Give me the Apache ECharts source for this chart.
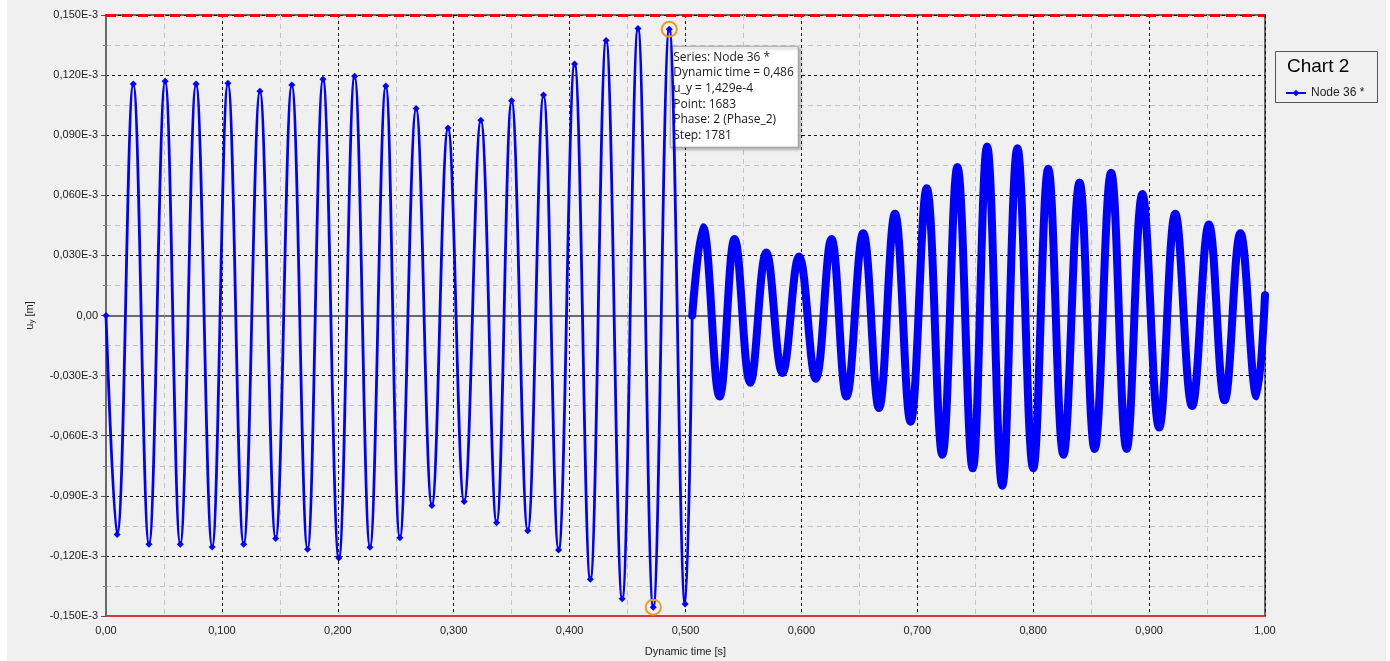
<!DOCTYPE html>
<html><head><meta charset="utf-8">
<script src="https://cdn.jsdelivr.net/npm/echarts@6/dist/echarts.min.js"></script>
<style>
html,body{margin:0;padding:0;background:#ffffff;width:1390px;height:661px;overflow:hidden}
#chart{position:absolute;left:7px;top:0;width:1379px;height:661px;background:#f0f0f0}
</style></head><body><div id="chart"></div>
<script>
// Dynamic time [s] and u_y in micrometres (1 µm = 0.001E-3 m), read at each turning point
const phase1Time = [0.0000, 0.0096, 0.0235, 0.0371, 0.0510, 0.0641, 0.0777, 0.0916, 0.1052, 0.1188,
  0.1328, 0.1464, 0.1603, 0.1739, 0.1872, 0.2009, 0.2145, 0.2278, 0.2414, 0.2536,
  0.2676, 0.2812, 0.2951, 0.3090, 0.3234, 0.3370, 0.3500, 0.3639, 0.3775, 0.3905,
  0.4043, 0.4179, 0.4315, 0.4454, 0.4590, 0.4722, 0.4860, 0.4997, 0.5058];
const phase1Value = [0.0, -109.3, 115.5, -114.2, 116.9, -114.2, 115.5, -115.5, 115.9, -114.2,
  112.0, -111.3, 115.0, -116.7, 117.9, -121.0, 119.4, -115.7, 114.6, -111.0,
  103.3, -94.8, 93.6, -92.8, 97.5, -103.5, 107.2, -107.4, 110.1, -117.1,
  125.6, -131.7, 137.3, -141.4, 143.3, -145.6, 142.9, -144.0, 0.0];
const phase2Time = [0.5058, 0.5150, 0.5294, 0.5424, 0.5559, 0.5697, 0.5836, 0.5980, 0.6124, 0.6259,
  0.6389, 0.6533, 0.6669, 0.6807, 0.6942, 0.7081, 0.7216, 0.7346, 0.7478, 0.7602,
  0.7733, 0.7864, 0.8000, 0.8130, 0.8261, 0.8400, 0.8530, 0.8672, 0.8806, 0.8942,
  0.9087, 0.9226, 0.9371, 0.9516, 0.9652, 0.9788, 0.9928, 1.0000];
const phase2Value = [0.0, 44.0, -40.4, 38.2, -33.6, 31.4, -28.7, 29.5, -31.6, 38.2,
  -40.4, 41.1, -46.2, 50.8, -53.0, 63.5, -69.5, 74.1, -76.3, 84.3,
  -85.0, 83.5, -76.3, 73.2, -69.5, 66.4, -66.6, 71.2, -66.6, 60.6,
  -55.9, 50.8, -45.2, 45.4, -42.3, 41.1, -40.4, 10.1];

const yTickLabels = ['-0,150E-3', '-0,120E-3', '-0,090E-3', '-0,060E-3', '-0,030E-3', '0,00',
  '0,030E-3', '0,060E-3', '0,090E-3', '0,120E-3', '0,150E-3'];
const xTickLabels = ['0,00', '0,100', '0,200', '0,300', '0,400', '0,500', '0,600', '0,700', '0,800', '0,900', '1,00'];

const seriesName = 'Node 36 *';
const chartTitle = 'Chart 2';
const limitUpper = 150;
const limitLower = -150;
const tipIndex = 36;   // point shown in the tooltip
const lowIndex = 35;   // second highlighted point
const tooltipLines = ['Series: Node 36 *', 'Dynamic time = 0,486', 'u_y = 1,429e-4',
  'Point: 1683', 'Phase: 2 (Phase_2)', 'Step: 1781'];

const FONT = 'Liberation Sans, Arial, sans-serif';
const pts1 = phase1Time.map((t, i) => [t, phase1Value[i]]);
const pts2 = phase2Time.map((t, i) => [t, phase2Value[i]]);

const chart = echarts.init(document.getElementById('chart'), null, {renderer: 'canvas'});
const option = {
  animation: false,
  backgroundColor: '#f0f0f0',
  grid: {left: 99, top: 15, width: 1159, height: 601, outerBoundsMode: 'none', containLabel: false,
    show: true, borderColor: '#6a6a6a', borderWidth: 2, backgroundColor: 'transparent'},
  xAxis: {
    type: 'value', min: 0, max: 1, interval: 0.1,
    name: 'Dynamic time [s]', nameLocation: 'middle', nameGap: 30,
    nameTextStyle: {fontSize: 11, color: '#222', fontFamily: FONT},
    axisLine: {show: true, lineStyle: {color: '#6a6a6a', width: 2}},
    axisTick: {show: true, length: 4, lineStyle: {color: '#555'}},
    minorTick: {show: true, splitNumber: 2, length: 3, lineStyle: {color: '#888'}},
    axisLabel: {margin: 9, fontSize: 11, color: '#222', fontFamily: FONT,
      formatter: v => xTickLabels[Math.round(v * 10)]},
    splitLine: {show: true, lineStyle: {color: '#111', width: 1, type: [3, 3]}},
    minorSplitLine: {show: true, lineStyle: {color: '#c4c4c4', width: 1, type: [5, 4]}}
  },
  yAxis: {
    type: 'value', min: -150, max: 150, interval: 30,
    name: 'u{s|y} [m]', nameLocation: 'middle', nameGap: 70, nameRotate: 90,
    nameTextStyle: {fontSize: 11, color: '#222', fontFamily: FONT,
      rich: {s: {fontSize: 8, color: '#222', fontFamily: FONT, padding: [4, 0, 0, 0]}}},
    axisLine: {show: true, lineStyle: {color: '#6a6a6a', width: 2}},
    axisTick: {show: true, length: 5, lineStyle: {color: '#555'}},
    minorTick: {show: true, splitNumber: 2, length: 3, lineStyle: {color: '#888'}},
    axisLabel: {margin: 8, fontSize: 11, color: '#222', fontFamily: FONT,
      formatter: v => yTickLabels[Math.round((v + 150) / 30)]},
    splitLine: {show: true, lineStyle: {color: '#111', width: 1, type: [3, 3]}},
    minorSplitLine: {show: true, lineStyle: {color: '#c4c4c4', width: 1, type: [5, 4]}}
  },
  legend: {
    data: [seriesName], left: 1273, top: 82, orient: 'vertical',
    itemWidth: 20, itemHeight: 8, itemGap: 4,
    textStyle: {fontSize: 12, color: '#222', fontFamily: FONT}
  },
  series: [
    {
      name: seriesName, type: 'line', data: pts1, smooth: 0.4,
      symbol: 'diamond', symbolSize: 7, showSymbol: true,
      lineStyle: {color: '#0000ff', width: 2.8},
      itemStyle: {color: '#0000ff'},
      z: 3,
      markLine: {
        silent: true, symbol: ['none', 'none'], label: {show: false},
        data: [
          {yAxis: limitUpper, lineStyle: {color: '#ff0000', width: 3, type: [10, 6]}},
          {yAxis: limitLower, lineStyle: {color: '#d03c3c', width: 2, type: 'solid'}}
        ]
      },
      markPoint: {
        silent: true, symbol: 'circle', symbolSize: 15, label: {show: false},
        itemStyle: {color: 'rgba(0,0,0,0)', borderColor: '#f39a1e', borderWidth: 2},
        data: [
          {coord: [phase1Time[tipIndex], phase1Value[tipIndex]]},
          {coord: [phase1Time[lowIndex], phase1Value[lowIndex]]}
        ]
      }
    },
    {
      name: seriesName, type: 'line', data: pts2, smooth: 0.4,
      symbol: 'none', showSymbol: false,
      lineStyle: {color: '#0000ff', width: 8, join: 'round', cap: 'round'},
      itemStyle: {color: '#0000ff'},
      z: 3
    }
  ]
};
chart.setOption(option);

const p = chart.convertToPixel({gridIndex: 0}, [phase1Time[tipIndex], phase1Value[tipIndex]]);
const boxX = p[0] + 1, boxY = p[1] + 17;
const lineH = 15.7;
chart.setOption({
  graphic: [
    {type: 'rect', left: 1268, top: 51, shape: {width: 102, height: 51},
      style: {fill: '#f0f0f0', stroke: '#555', lineWidth: 1}, z: 1},
    {type: 'text', left: 1280, top: 57, style: {text: chartTitle, font: '19px ' + FONT, fill: '#000'}, z: 5},
    {type: 'group', x: boxX, y: boxY, z: 100, children: [
      {type: 'rect', shape: {x: 0, y: 0, width: 128, height: 101},
        style: {fill: '#ffffff', stroke: '#a0a0a0', lineWidth: 1,
          shadowBlur: 3, shadowOffsetX: 2, shadowOffsetY: 2, shadowColor: 'rgba(0,0,0,0.35)'}},
      ...tooltipLines.map((s, i) => ({type: 'text', x: 3, y: 5 + i * lineH,
        style: {text: s, font: '12px "Open Sans", ' + FONT, fill: '#1a1a1a'}}))
    ]}
  ]
});
</script></body></html>
